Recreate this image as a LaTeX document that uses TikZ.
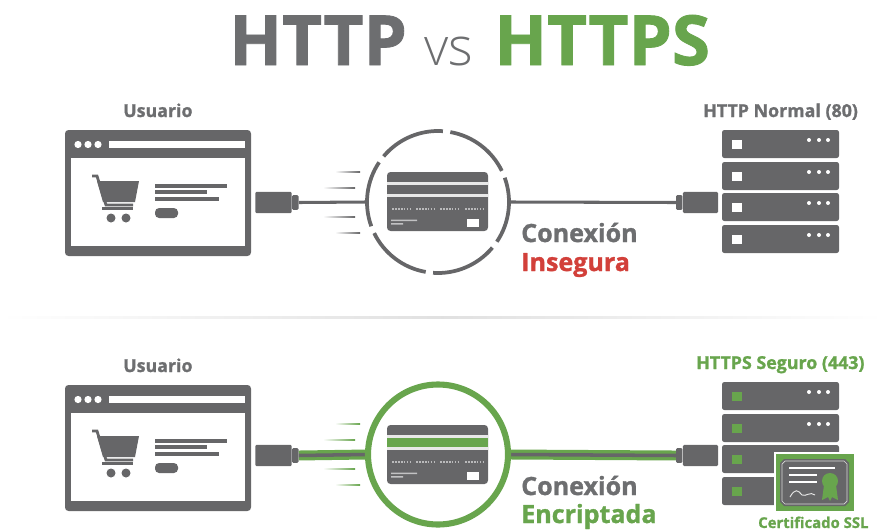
\documentclass[tikz,border=0pt]{standalone}
\usepackage{fontspec}
\setmainfont{Open Sans}
\newfontface\heavyface{Open Sans Bold}[FakeBold=1.2]
\usepackage{xcolor}
\usetikzlibrary{calc}
\usetikzlibrary{positioning}
\definecolor{iconGray}{HTML}{666668}
\definecolor{textGray}{HTML}{6D6E70}
\definecolor{okGreen}{HTML}{68A54D}
\definecolor{badRed}{HTML}{D2403A}
\tikzset{
	label/.style={inner sep=0pt,anchor=base west},
	small/.style={label,font=\fontsize{15.2}{16}\selectfont\heavyface},
	big/.style={label,font=\fontsize{21.4}{22}\selectfont\heavyface},
	huge/.style={label,font=\fontsize{59}{60}\selectfont\heavyface},
	plug/.style={fill=iconGray,draw=none,inner sep=0pt,rounded corners=1pt,minimum width=30pt,minimum height=18pt},
	collar/.style={fill=iconGray,draw=none,inner sep=0pt,rounded corners=1pt,minimum width=5.5pt,minimum height=12.5pt},
	ring/.style={circle,inner sep=0pt,minimum size=121pt},
	wire/.style={iconGray,line width=2.6pt},
	pics/browser/.style={code={
		\fill[iconGray,rounded corners=3pt] (65,130) -- (251,130) -- (251,256) -- (65,256) -- cycle;
		\fill[white] (71,158) rectangle (245,246);
		\fill[white] (109,141) rectangle (245,148);
		\foreach \dotx in {78,88,98} \fill[white] (\dotx,144.5) circle (3.6);
		% cart
		\draw[iconGray,line width=2.4pt] (92,176) -- (97,176) -- (106,205) -- (133,205);
		\fill[iconGray] (97,181) -- (139,181) -- (135,202) -- (103,202) -- cycle;
		\fill[iconGray] (102,207) rectangle (133,210);
		\fill[iconGray] (111,218) circle (4.5) (126,218) circle (4.5);
		% text lines
		\fill[iconGray] (155,184) rectangle (227,188);
		\fill[iconGray] (155,190) rectangle (207,194);
		\fill[iconGray] (155,197) rectangle (219,201);
		\fill[iconGray,rounded corners=3.5pt] (155,208) rectangle (178,218);
	}},
	pics/server/.style={code={
		\foreach \rowy in {0,32,63,95} {
			\fill[iconGray,rounded corners=2pt] (722,\rowy+130) rectangle (839,\rowy+158);
			\fill[#1] (732,\rowy+140) rectangle (742,\rowy+149);
			\foreach \dotx in {809,819,828} \fill[white] (\dotx,\rowy+140) circle (2);
		}
	}},
	pics/card/.style={code={
		\fill[iconGray,rounded corners=3pt] (387,172) rectangle (488,231);
		\fill[white!85!iconGray] (387,182) rectangle (488,196.5);
		\fill[#1] (387,184.5) rectangle (488,194);
		\foreach \digx in {392,416,440,465}
			\draw[white!55!iconGray,line width=1pt,dash pattern=on 1.5pt off 1pt] (\digx,209) -- (\digx+19,209);
		\fill[white!60!iconGray] (391,219.5) rectangle (417,221) (391,223) rectangle (403,224.5);
		\fill[white] (467,219) rectangle (479,227);
	}},
	pics/speed/.style={code={
		\shade[left color=white,right color=#1] (335,171.6) rectangle (360,172.8);
		\shade[left color=white,right color=#1] (323,187.6) rectangle (355,188.8);
		\shade[left color=white,right color=#1] (323,216.6) rectangle (355,217.8);
		\shade[left color=white,right color=#1] (335,232.6) rectangle (360,233.8);
	}}
}
\begin{document}
\begin{tikzpicture}[x=0.03cm,y=-0.03cm]
	\useasboundingbox (0,0) rectangle (884,530);
	% title
	\node[huge,text=textGray] (titleA) at (229,65) {HTTP};
	\node[label,font=\fontsize{45}{45}\selectfont\fontspec{Open Sans Light},text=textGray] (titleB) at (424,65) {vs};
	\node[huge,text=okGreen] (titleC) at (494,65) {HTTPS};
	% insecure connection
	\node[small,text=textGray] (userA) at (123,117) {Usuario};
	\node[small,text=textGray] (serverA) at (703,117) {HTTP Normal (80)};
	\pic at (0,0) {browser};
	\pic at (0,0) {server=white};
	\pic at (0,0) {card=iconGray};
	\pic at (0,0) {speed=iconGray};
	\node[plug,minimum width=31pt] (plugA) at (273.5,202.5) {};
	\node[collar,right=0pt of plugA] (collarA) {};
	\node[ring] (ringA) at (438,202) {};
	\node[plug] (plugB) at (700.5,202.5) {};
	\node[collar,left=0pt of plugB] (collarB) {};
	\draw[wire] (collarA.east) -- (ringA.west);
	\draw[wire] (ringA.east) -- (collarB.west);
	\foreach \gapa in {83,23,-37,-97,-157,143}
		\draw[iconGray,line width=3.2pt] (ringA.center) ++(-\gapa-3:71) arc (-\gapa-3:-\gapa-57:71);
	\node[big,text=textGray] (connA) at (521,242) {Conexión};
	\node[big,text=badRed] (stateA) at (521,271) {Insegura};
	% divider
	\shade[left color=white,right color=white,middle color=black!12] (0,316.5) rectangle (884,318);
	% encrypted connection
	\node[small,text=textGray] (userB) at (123,372) {Usuario};
	\node[small,text=okGreen] (serverB) at (696,369) {HTTPS Seguro (443)};
	\pic at (0,255) {browser};
	\pic at (0,252) {server=okGreen};
	\pic at (0,253) {card=okGreen};
	\pic at (0,252) {speed=okGreen};
	\node[plug,minimum width=31pt] (plugC) at (273.5,455.5) {};
	\node[collar,right=0pt of plugC] (collarC) {};
	\node[ring] (ringB) at (438,454.5) {};
	\node[plug] (plugD) at (700.5,455.5) {};
	\node[collar,left=0pt of plugD] (collarD) {};
	\foreach \wirefrom/\wireto in {collarC.east/ringB.west,ringB.east/collarD.west} {
		\draw[okGreen,line width=8.5pt] (\wirefrom) -- (\wireto);
		\draw[iconGray,line width=3pt] (\wirefrom) -- (\wireto);
	}
	\draw[okGreen,line width=5.2pt] (ringB.center) circle (70);
	\node[big,text=textGray] (connB) at (521,495) {Conexión};
	\node[big,text=okGreen] (stateB) at (521,523) {Encriptada};
	% certificate
	\fill[white] (774,452) rectangle (856,513);
	\fill[okGreen] (776,454) rectangle (854,511);
	\fill[iconGray] (784,459) -- (845,459) -- (849,463) -- (849,502) -- (845,506) -- (784,506) -- (780,502) -- (780,463) -- cycle;
	\draw[white!75!iconGray,line width=0.6pt] (785,461) -- (844,461) -- (847,464) -- (847,501) -- (844,504) -- (785,504) -- (782,501) -- (782,464) -- cycle;
	\draw[white,line width=1.5pt] (789,468) -- (835,468) (789,475) -- (817,475) (789,482) -- (817,482);
	\fill[okGreen] (824,485) -- (822,500) -- (828,497) -- (830,501) -- (832,497) -- (838,500) -- (836,485) -- cycle;
	\fill[okGreen] (830,481) circle (8);
	\draw[white!85!iconGray,line width=0.8pt] (790,497) .. controls (795,488) and (798,490) .. (802,495) .. controls (806,497) and (810,491) .. (815,495);
	\node[small,font=\fontsize{12.7}{13}\selectfont\heavyface,text=okGreen] (sslB) at (758,528) {Certificado SSL};
\end{tikzpicture}
\end{document}
